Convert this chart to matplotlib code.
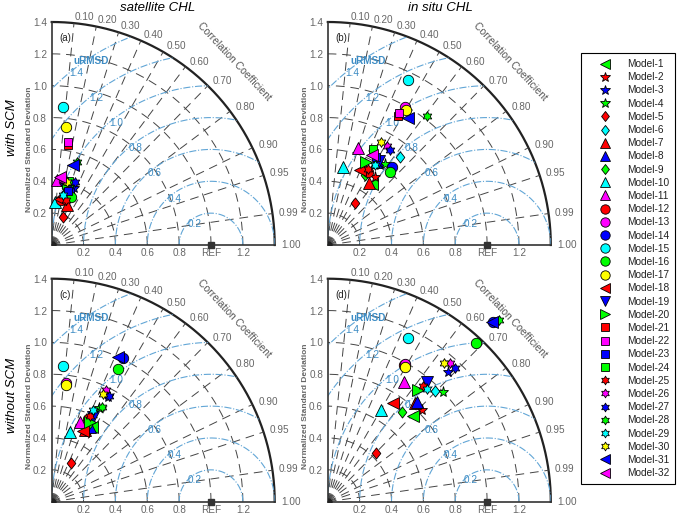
import numpy as np
import matplotlib as mpl
mpl.use('Agg')
from matplotlib import pyplot as plt
from matplotlib.path import Path
from matplotlib.patches import Wedge

plt.rcParams['font.family'] = ['Liberation Sans', 'DejaVu Sans']

models = ['Model-%d' % i for i in range(1, 33)]

# marker shape / face colour of each model (order as in the legend)
shapes = ['<', 'pent', 'pent', 'pent', 'dia', 'dia', '^', '^', 'dia', '^', '^',
          'o', 'o', 'o', 'o', 'o', 'o', '<', 'v', '>', 's', 's', 's', 's',
          'hex', 'hex', 'hex', 'hex', 'hex', 'hex', '<', '<']
colors = ['g', 'r', 'b', 'g', 'r', 'c', 'r', 'b', 'g', 'c', 'm',
          'r', 'm', 'b', 'c', 'g', 'y', 'r', 'b', 'g', 'r', 'm', 'b', 'g',
          'r', 'm', 'b', 'g', 'c', 'y', 'b', 'm']
# matlab style pure colours
rgb = {'r': (1, 0, 0), 'g': (0, 1, 0), 'b': (0, 0, 1),
       'c': (0, 1, 1), 'm': (1, 0, 1), 'y': (1, 1, 0)}

nan = np.nan
# normalized standard deviation and correlation, panel by panel
std_a = [0.345, 0.298, 0.386, 0.398, 0.191, 0.330, 0.268, 0.374, 0.386, 0.273, 0.409,
         0.286, 0.408, 0.357, 0.867, 0.326, 0.748, 0.294, 0.361, 0.403, 0.637, 0.657,
         0.354, 0.415, 0.294, 0.418, 0.423, 0.547, 0.322, 0.408, 0.520, 0.428]
corr_a = [0.29, 0.235, 0.363, 0.30, 0.361, 0.242, 0.351, 0.268, 0.285, 0.077, 0.076,
          0.21, 0.196, 0.308, 0.080, 0.365, 0.120, 0.17, 0.249, 0.248, 0.163, 0.158,
          0.282, 0.265, 0.306, 0.191, 0.345, 0.294, 0.227, 0.230, 0.262, 0.121]

std_b = [0.472, 0.518, 0.599, 0.624, 0.313, 0.713, 0.466, 0.600, 0.498, 0.497, 0.637,
         0.524, 0.994, 0.633, 1.153, 0.603, 0.978, 0.512, 0.619, 0.575, 0.923, 0.945,
         0.626, 0.665, 0.543, 0.722, 0.712, 1.025, 0.583, 0.729, 0.942, 0.628]
corr_b = [0.593, 0.571, 0.551, 0.577, 0.546, 0.636, 0.558, 0.50, 0.47, 0.187, 0.301,
          0.477, 0.488, 0.632, 0.438, 0.647, 0.50, 0.395, 0.517, 0.417, 0.480, 0.475,
          0.479, 0.430, 0.468, 0.512, 0.548, 0.610, 0.508, 0.455, 0.536, 0.438]

std_c = [0.532, 0.550, 0.747, 0.662, 0.270, 0.604, 0.497, 0.528, 0.532, 0.455, 0.529,
         0.569, 0.750, 1.006, 0.857, 0.930, 0.739, 0.487, 0.590, 0.555, nan, nan,
         nan, nan, 0.591, 0.780, 0.758, 0.675, 0.632, 0.749, 1.001, nan]
corr_c = [0.47, 0.418, 0.469, 0.453, 0.449, 0.414, 0.423, 0.455, 0.432, 0.253, 0.337,
          0.404, 0.12, 0.447, 0.085, 0.449, 0.122, 0.407, 0.44, 0.432, nan, nan,
          nan, nan, 0.406, 0.437, 0.478, 0.465, 0.411, 0.433, 0.418, nan]

std_d = [0.757, 0.824, 1.113, 0.998, 0.429, 0.969, 0.829, 0.843, 0.731, 0.665, 0.892,
         0.985, 0.993, 1.536, 1.144, 1.364, 0.977, 0.739, 0.979, 0.902, nan, nan,
         nan, nan, 0.942, 1.159, 1.156, 1.568, 0.942, 1.137, 1.528, nan]
corr_d = [0.704, 0.715, 0.680, 0.722, 0.706, 0.695, 0.663, 0.667, 0.635, 0.499, 0.536,
          0.487, 0.489, 0.677, 0.442, 0.682, 0.496, 0.551, 0.639, 0.630, nan, nan,
          nan, nan, 0.637, 0.662, 0.690, 0.687, 0.663, 0.641, 0.673, nan]

std_ticks = [0.2, 0.4, 0.6, 0.8, 1.0, 1.2]
corr_ticks = [0.1, 0.2, 0.3, 0.4, 0.5, 0.6, 0.7, 0.8, 0.9, 0.95, 0.99]
rms_ticks = [0.2, 0.4, 0.6, 0.8, 1.0, 1.2, 1.4]

hexagram = Path.unit_regular_star(6, 0.57)
diamond = Path([(0, 1), (0.78, 0), (0, -1), (-0.78, 0), (0, 1)], closed=True)
mk = {'o': ('o', 7.5), '<': ('<', 8.5), '>': ('>', 8.5), '^': ('^', 8.5),
      'v': ('v', 8.5), 's': ('s', 6.0), 'dia': (diamond, 8.0),
      'pent': ('*', 8.0), 'hex': (hexagram, 7.0)}

rmax = 1.4
dash = (0, (9, 6))
gray = '#555555'
blue = '#3d8cc4'


def taylor(ax, std, corr, tag):
    ax.set_xlim(0, rmax)
    ax.set_ylim(0, rmax)
    ax.set_aspect('equal')
    for s in ['top', 'right']:
        ax.spines[s].set_visible(False)
    for s in ['left', 'bottom']:
        ax.spines[s].set_color('#333333')
        ax.spines[s].set_linewidth(1.2)
    ax.set_yticks([0.2, 0.4, 0.6, 0.8, 1.0, 1.2, 1.4])
    ax.set_yticklabels(['0.2', '0.4', '0.6', '0.8', '1.0', '1.2', '1.4'])
    ax.set_xticks([0.2, 0.4, 0.6, 0.8, 1.0, 1.2])
    ax.set_xticklabels(['0.2', '0.4', '0.6', '0.8', 'REF', '1.2'])
    ax.tick_params(length=0, labelsize=7.2, labelcolor='#666666')
    ax.tick_params(axis='y', pad=3.4)
    ax.tick_params(axis='x', pad=2.5)
    ax.set_ylabel('Normalized Standard Deviation', fontsize=6, fontweight='bold', color='#666666')
    ax.yaxis.set_label_coords(-0.085, 0.43)

    clip = Wedge((0, 0), rmax, 0, 90, transform=ax.transData, fc='none', ec='none')
    ax.add_patch(clip)

    t = np.linspace(0, np.pi / 2, 300)
    for r in std_ticks:
        ax.plot(r * np.cos(t), r * np.sin(t), color='#444444', lw=0.7, ls=dash)
    ax.plot(rmax * np.cos(t), rmax * np.sin(t), color='#222222', lw=1.6, clip_on=False)

    for c in corr_ticks:
        th = np.arccos(c)
        ax.plot([0, rmax * np.cos(th)], [0, rmax * np.sin(th)], color='#444444', lw=0.7, ls=dash)
        ax.text(1.44 * np.cos(th), 1.44 * np.sin(th), '%.2f' % c, ha='left', va='center',
                fontsize=7.2, color='#666666')
    ax.text(1.44, 0, '1.00', ha='left', va='center', fontsize=7.2, color='#666666')

    p = np.linspace(0, np.pi, 600)
    a = np.deg2rad(128)
    for r in rms_ticks:
        ln, = ax.plot(1 + r * np.cos(p), r * np.sin(p), color='#62a6d6', lw=0.8, ls='-.')
        ln.set_clip_path(clip)
        ax.text(1 + (r - 0.03) * np.cos(a), (r - 0.03) * np.sin(a), '%.1f' % r,
                ha='center', va='center', fontsize=7.2, color=blue)
    ax.text(0.25, 1.155, 'uRMSD', ha='center', va='center', fontsize=7.2,
            fontweight='bold', color=blue)

    ax.text(1.145, 1.149, 'Correlation Coefficient', rotation=-47, ha='center', va='center',
            rotation_mode='anchor', fontsize=7.5, color=gray)
    ax.text(0.084, 1.30, tag, ha='center', va='center', fontsize=7, color='#222222')

    ax.plot([1.0], [0.0], 's', color='#333333', ms=5, clip_on=False, zorder=5)
    ax.plot([0.0], [0.0], 'o', color='#222222', ms=5, zorder=5)

    std = np.array(std)
    corr = np.array(corr)
    xs = std * corr
    ys = std * np.sin(np.arccos(corr))
    handles = []
    for i in range(len(models)):
        m, size = mk[shapes[i]]
        h, = ax.plot([xs[i]], [ys[i]], ls='none', marker=m, ms=size, mfc=rgb[colors[i]],
                     mec='black', mew=0.6, clip_on=False, zorder=10 + i, label=models[i])
        handles.append(h)
    return handles


fig = plt.figure(figsize=(6.8, 5.16), dpi=100)
W, H = 680.0, 516.0
side = 223.0
origins = [(51.7, 245.0), (327.8, 245.0), (51.7, 501.7), (327.8, 501.7)]
data = [(std_a, corr_a, '(a)'), (std_b, corr_b, '(b)'),
        (std_c, corr_c, '(c)'), (std_d, corr_d, '(d)')]
handles = None
for (ox, oy), (s, c, tag) in zip(origins, data):
    ax = fig.add_axes([ox / W, 1 - oy / H, side / W, side / H])
    h = taylor(ax, s, c, tag)
    if handles is None:
        handles = h

fig.text(158 / W, 1 - 8 / H, 'satellite CHL', ha='center', va='center', style='italic', fontsize=9.5)
fig.text(440 / W, 1 - 8 / H, 'in situ CHL', ha='center', va='center', style='italic', fontsize=9.5)
fig.text(12 / W, 1 - 128 / H, 'with SCM', ha='center', va='center', rotation=90,
         style='italic', fontsize=9.5)
fig.text(12 / W, 1 - 395 / H, 'without SCM', ha='center', va='center', rotation=90,
         style='italic', fontsize=9.5)

leg = fig.legend(handles, models, loc='upper left', bbox_to_anchor=(581 / W, 1 - 53 / H),
                 borderaxespad=0, fontsize=7.3, frameon=True, fancybox=False,
                 edgecolor='black', framealpha=1, borderpad=0.6, handlelength=3.6,
                 handletextpad=0.33, labelspacing=0.315, markerscale=0.9)
leg.get_frame().set_linewidth(0.8)
for t in leg.get_texts():
    t.set_color('#222222')

fig.savefig('out.png', dpi=100)
